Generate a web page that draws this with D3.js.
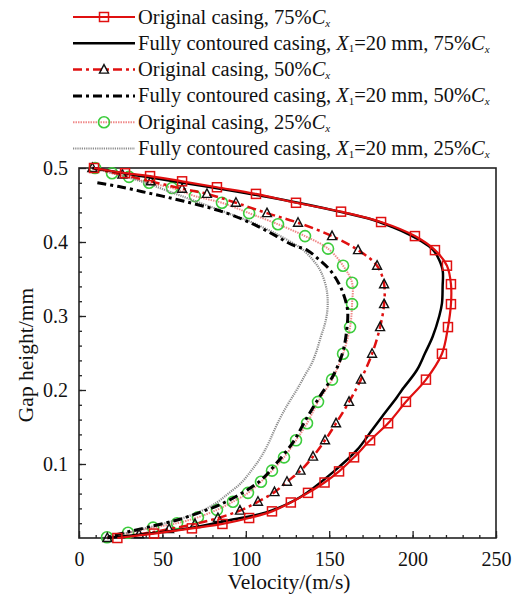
<!DOCTYPE html>
<html>
<head>
<meta charset="utf-8">
<script src="https://cdn.jsdelivr.net/npm/d3@7"></script>
<style>
  body { margin: 0; background: #fff; }
  text { font-family: "Liberation Serif", "Times New Roman", serif; fill: #111; }
</style>
</head>
<body>
<svg id="chart" width="518" height="600"></svg>
<script>
// velocity (m/s), gap height (mm)
var orig75 = [[9,0.5],[27.6,0.493],[42.6,0.489],[61.8,0.482],[82.7,0.474],[106.1,0.465],[130.1,0.453],
  [157.1,0.441],[181.1,0.427],[201.4,0.408],[213.4,0.389],[220.6,0.368],[223,0.343],[223,0.316],
  [221.2,0.285],[217.6,0.249],[208,0.214],[196,0.184],[185.3,0.155],[174.5,0.132],[164.9,0.109],
  [155.9,0.09],[147.2,0.075],[137.3,0.061],[127,0.048],[115.7,0.036],[102,0.027],[86,0.019],
  [67.7,0.013],[45,0.006],[23,0]];
var full75 = [[8,0.5],[35,0.49],[62,0.48],[90,0.47],[115,0.46],[138,0.45],[158,0.44],[176,0.43],
  [188,0.42],[198,0.41],[206,0.4],[212,0.39],[215,0.38],[218,0.362],[218,0.34],[217.6,0.317],
  [216,0.3],[212,0.272],[207.5,0.25],[202.6,0.227],[193.6,0.2],[190.5,0.19],[182,0.165],[175.7,0.146],
  [166.7,0.119],[152.3,0.089],[132.5,0.055],[112.7,0.035],[90,0.024],[68,0.014],[42,0.006],[17,0]];
var orig50 = [[8,0.5],[26,0.491],[43,0.482],[61.8,0.472],[76.7,0.465],[94.1,0.453],[112.7,0.439],
  [131.3,0.426],[151.7,0.408],[167.3,0.389],[178.7,0.368],[182.9,0.343],[182.9,0.316],[180.5,0.285],
  [175.7,0.249],[169,0.214],[161.9,0.184],[154.1,0.155],[147.5,0.132],[140.3,0.11],[132.8,0.091],
  [124.7,0.076],[117.2,0.062],[107.3,0.049],[96.5,0.037],[83.3,0.027],[69.5,0.019],[54,0.012],
  [36,0.005],[17,0]];
var full50 = [[11,0.48],[24,0.475],[38,0.468],[50,0.462],[63,0.455],[77,0.447],[91,0.437],[105.5,0.423],
  [117.5,0.409],[128,0.396],[136.7,0.389],[144.5,0.375],[150.5,0.362],[155.5,0.345],[158.3,0.331],
  [161,0.308],[160.5,0.281],[158,0.25],[152.5,0.22],[144,0.19],[136,0.16],[128.5,0.13],[118,0.1],
  [109,0.078],[98,0.061],[84.5,0.045],[73,0.035],[60,0.025],[42,0.015],[27,0.007],[15,0]];
var orig25 = [[9.6,0.5],[19.8,0.493],[30,0.488],[42,0.48],[55.8,0.473],[69.5,0.462],[85.7,0.453],
  [102,0.439],[119.3,0.424],[135.5,0.408],[149.3,0.391],[158.3,0.368],[163.7,0.345],[163.7,0.316],
  [162.5,0.285],[158.3,0.249],[151.7,0.214],[143.3,0.184],[136.7,0.155],[130.1,0.132],[122.9,0.109],
  [115.7,0.091],[109.1,0.076],[101.3,0.061],[92.3,0.049],[82.7,0.038],[71.3,0.028],[58.8,0.02],
  [44.4,0.014],[29.4,0.007],[16.8,0.001]];
var full25 = [[8,0.5],[25,0.49],[40,0.48],[52,0.47],[64,0.46],[76,0.45],[88,0.44],[100,0.43],
  [110,0.42],[119,0.41],[127,0.4],[134,0.39],[140.5,0.375],[145,0.36],[148.5,0.335],[149,0.31],
  [147.5,0.29],[145,0.272],[142,0.25],[139.5,0.236],[135.5,0.22],[130.5,0.2],[125,0.18],[119,0.155],
  [114,0.13],[109,0.109],[103,0.09],[97,0.074],[89.5,0.06],[82,0.047],[72,0.035],[58,0.024],
  [36,0.011],[17,0]];

var xTicks = [0, 50, 100, 150, 200, 250];
var yTicks = [0.1, 0.2, 0.3, 0.4, 0.5];

var series = [
  {name: "Original casing, ", pct: "25%", x1: false, data: orig25, color: "#f08a8a", width: 2, dash: "1.5,1", marker: "circle"},
  {name: "Fully contoured casing, ", pct: "25%", x1: true, data: full25, color: "#8c8c8c", width: 2.2, dash: "1.2,1", marker: null},
  {name: "Fully contoured casing, ", pct: "50%", x1: true, data: full50, color: "#000", width: 3, dash: "9,4,3,4", marker: null},
  {name: "Original casing, ", pct: "50%", x1: false, data: orig50, color: "#e01010", width: 2.5, dash: "9,4,3,4", marker: "triangle"},
  {name: "Fully contoured casing, ", pct: "75%", x1: true, data: full75, color: "#000", width: 2.5, dash: null, marker: null},
  {name: "Original casing, ", pct: "75%", x1: false, data: orig75, color: "#e01010", width: 2.2, dash: null, marker: "square"}
];
var legendOrder = [5, 4, 3, 2, 0, 1];

var svg = d3.select("#chart");
var x = d3.scaleLinear().domain([0, 250]).range([79, 496]);
var y = d3.scaleLinear().domain([0, 0.5]).range([538, 168]);

// inward ticks on left and bottom
svg.append("g").attr("transform", "translate(0,538)")
  .call(d3.axisBottom(x).tickValues(d3.range(0, 251, 10)).tickSize(-3).tickFormat(""))
  .call(g => g.select(".domain").remove());
svg.append("g").attr("transform", "translate(0,538)")
  .call(d3.axisBottom(x).tickValues(xTicks).tickSize(-7).tickPadding(14).tickFormat(d3.format("d")))
  .call(g => g.select(".domain").remove())
  .call(g => g.selectAll("text").attr("font-size", 20).attr("font-family", "Liberation Serif").attr("fill", "#222"));
svg.append("g").attr("transform", "translate(79,0)")
  .call(d3.axisLeft(y).tickValues(d3.range(0.02, 0.5, 0.02)).tickSize(-3).tickFormat(""))
  .call(g => g.select(".domain").remove());
svg.append("g").attr("transform", "translate(79,0)")
  .call(d3.axisLeft(y).tickValues(yTicks).tickSize(-7).tickPadding(11).tickFormat(d3.format(".1f")))
  .call(g => g.select(".domain").remove())
  .call(g => g.selectAll("text").attr("font-size", 20).attr("font-family", "Liberation Serif").attr("fill", "#222"));
svg.selectAll(".tick line").attr("stroke", "#222").attr("stroke-width", 1.3);

svg.append("rect").attr("x", 79).attr("y", 168).attr("width", 417).attr("height", 370)
  .attr("fill", "none").attr("stroke", "#222").attr("stroke-width", 1.6);

var line = d3.line().x(d => x(d[0])).y(d => y(d[1])).curve(d3.curveCatmullRom);

function drawMarker(g, kind, px, py, color) {
  if (kind == "circle") {
    g.append("circle").attr("cx", px).attr("cy", py).attr("r", 5.5)
      .attr("fill", "none").attr("stroke", "#3ccc3c").attr("stroke-width", 1.6);
  } else if (kind == "square") {
    g.append("rect").attr("x", px - 4.5).attr("y", py - 4.5).attr("width", 9).attr("height", 9)
      .attr("fill", "none").attr("stroke", color).attr("stroke-width", 1.5);
  } else if (kind == "triangle") {
    g.append("path").attr("d", "M" + px + "," + (py - 5) + "L" + (px + 4.5) + "," + (py + 3.5) + "L" + (px - 4.5) + "," + (py + 3.5) + "Z")
      .attr("fill", "none").attr("stroke", "#111").attr("stroke-width", 1.4);
  }
}

series.forEach(function(s) {
  var g = svg.append("g");
  g.append("path").attr("d", line(s.data)).attr("fill", "none")
    .attr("stroke", s.color).attr("stroke-width", s.width)
    .attr("stroke-dasharray", s.dash);
  if (s.marker) {
    s.data.forEach(function(d) { drawMarker(g, s.marker, x(d[0]), y(d[1]), s.color); });
  }
});

// legend
var lg = svg.append("g");
legendOrder.forEach(function(idx, i) {
  var s = series[idx];
  var ly = 17 + i * 26.3;
  lg.append("line").attr("x1", 73).attr("x2", 135).attr("y1", ly).attr("y2", ly)
    .attr("stroke", s.color).attr("stroke-width", s.width).attr("stroke-dasharray", s.dash);
  if (s.marker) drawMarker(lg, s.marker, 104, ly, s.color);
  var t = lg.append("text").attr("x", 138).attr("y", ly + 6.5).attr("font-size", 20.5);
  t.append("tspan").text(s.name);
  if (s.x1) {
    t.append("tspan").attr("font-style", "italic").text("X");
    t.append("tspan").attr("font-size", 11).attr("dy", 2.5).text("1");
    t.append("tspan").attr("dy", -2.5).text("=20 mm, ");
  }
  t.append("tspan").text(s.pct);
  t.append("tspan").attr("font-style", "italic").text("C");
  t.append("tspan").attr("font-style", "italic").attr("font-size", 11).attr("dy", 3).text("x");
});

svg.append("text").attr("x", 289).attr("y", 589).attr("text-anchor", "middle")
  .attr("font-size", 21.5).text("Velocity/(m/s)");
svg.append("text").attr("transform", "translate(33,355) rotate(-90)").attr("text-anchor", "middle")
  .attr("font-size", 21.5).text("Gap height/mm");
</script>
</body>
</html>
